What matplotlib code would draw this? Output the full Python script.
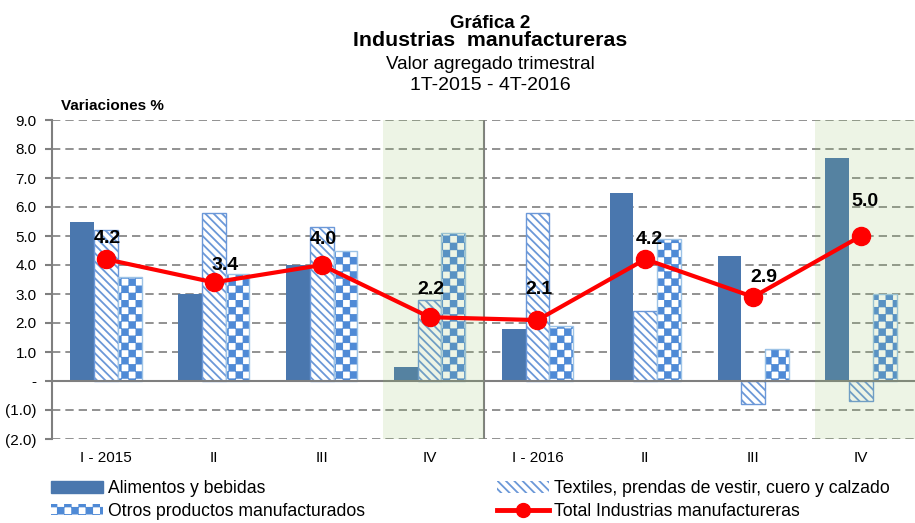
import matplotlib
matplotlib.use("Agg")
import matplotlib.pyplot as plt
import matplotlib.hatch as mhatch
from matplotlib.path import Path as MPath
from matplotlib.patches import Patch
from matplotlib.lines import Line2D
from matplotlib.ticker import FixedLocator, FuncFormatter
import numpy as np

QUARTERS = ["I - 2015", "II", "III", "IV", "I - 2016", "II", "III", "IV"]
ALIMENTOS = [5.5, 3.0, 4.0, 0.5, 1.8, 6.5, 4.3, 7.7]
TEXTILES = [5.2, 5.8, 5.3, 2.8, 5.8, 2.4, -0.8, -0.7]
OTROS = [3.6, 3.7, 4.5, 5.1, 1.9, 4.9, 1.1, 3.0]
TOTAL = [4.2, 3.4, 4.0, 2.2, 2.1, 4.2, 2.9, 5.0]
HIGHLIGHT = [3, 7]          # fourth quarters, shaded
YEAR_BREAK = 3.5

plt.rcParams["font.family"] = ["Liberation Sans", "DejaVu Sans"]
plt.rcParams["hatch.linewidth"] = 1.3


# matplotlib has no checkerboard hatch: use 'O' for one (drop the big circles)
class CheckerHatch(mhatch.HatchPatternBase):
    def __init__(self, hatch, density):
        self.n = 14 * hatch.count("O")
        self.num_vertices = (self.n * self.n // 2) * 5

    def set_vertices_and_codes(self, vertices, codes):
        s = 1.0 / self.n
        d = 0.007  # shrink for the stroke that agg adds round the squares
        k = 0
        for i in range(self.n):
            for j in range(self.n):
                if (i + j) % 2:
                    continue
                x0, y0 = i * s + d, j * s + d
                x1, y1 = (i + 1) * s - d, (j + 1) * s - d
                vertices[k:k + 5] = [[x0, y0], [x1, y0], [x1, y1], [x0, y1], [x0, y0]]
                codes[k:k + 5] = [MPath.MOVETO, MPath.LINETO, MPath.LINETO,
                                  MPath.LINETO, MPath.CLOSEPOLY]
                k += 5


mhatch._hatch_types = [h for h in mhatch._hatch_types if h is not mhatch.LargeCircles]
mhatch._hatch_types.append(CheckerHatch)

C_ALIM = "#4a77ae"
C_TEXT = "#6b98d8"
C_OTROS = "#4f8ad6"
C_OTROS_EDGE = "#9dc3e6"
C_RED = "#ff0000"
C_GRID = "#7f7f7f"
HATCH_TEXT = "\\\\\\\\"

fig = plt.figure(figsize=(9.15, 5.23), dpi=100)
ax = fig.add_axes([52 / 915, 1 - 439 / 523, 1 - 52 / 915, 319 / 523])

x = np.arange(len(QUARTERS))
w = 0.22
ax.bar(x - w, ALIMENTOS, w, color=C_ALIM, zorder=2)
ax.bar(x, TEXTILES, w, color="white", edgecolor=C_TEXT, hatch=HATCH_TEXT,
       linewidth=1.0, zorder=2)
ax.bar(x + w, OTROS, w, color="white", edgecolor=C_OTROS, hatch="O",
       linewidth=0, zorder=2)
ax.bar(x + w, OTROS, w, fill=False, edgecolor=C_OTROS_EDGE, linewidth=1.0, zorder=2.1)

for i in HIGHLIGHT:
    ax.axvspan(i - 0.43, i + 0.5, color="#8fc060", alpha=0.16, lw=0, zorder=2.5)

for yv in range(-2, 10):
    if yv == 0:
        continue
    ax.axhline(yv, color=C_GRID, lw=1.2, ls=(0, (5, 3)), zorder=0.5)
ax.axhline(0, color=C_GRID, lw=1.5, zorder=2.4)
ax.axvline(YEAR_BREAK, color=C_GRID, lw=1.5, zorder=2.4)

ax.plot(x, TOTAL, color=C_RED, lw=3, marker="o", ms=13, zorder=3)
offsets = [(1, 9), (8, 6), (1, 12), (1, 14), (1, 16), (3, 8), (8, 8), (3, 19)]
for xi, v, off in zip(x, TOTAL, offsets):
    ax.annotate(f"{v:.1f}", (xi, v), xytext=off, textcoords="offset points",
                ha="center", va="bottom", fontsize=14, fontweight="bold",
                zorder=4)

ax.set_xlim(-0.5, 7.5)
ax.set_ylim(-2, 9)
ax.yaxis.set_major_locator(FixedLocator(range(-2, 10)))
ax.yaxis.set_major_formatter(FuncFormatter(
    lambda v, p: "-" if v == 0 else (f"({abs(v):.1f})" if v < 0 else f"{v:.1f}")))
ax.set_xticks(x)
ax.set_xticklabels(QUARTERS)
ax.tick_params(axis="x", length=0, pad=9, labelsize=11)
ax.tick_params(axis="y", direction="out", length=5, width=1.5, color=C_GRID,
               pad=6, labelsize=11)
for side in ["top", "right", "bottom"]:
    ax.spines[side].set_visible(False)
ax.spines["left"].set_color(C_GRID)
ax.spines["left"].set_linewidth(1.5)

fig.text(0.5355, 1 - 28 / 523, "Gráfica 2", ha="center", va="baseline",
         fontsize=13.5, fontweight="bold")
fig.text(0.5355, 1 - 46 / 523, "Industrias  manufactureras", ha="center",
         va="baseline", fontsize=15.3, fontweight="bold")
fig.text(0.5355, 1 - 69 / 523, "Valor agregado trimestral", ha="center",
         va="baseline", fontsize=13.5)
fig.text(0.5355, 1 - 90 / 523, "1T-2015 - 4T-2016", ha="center",
         va="baseline", fontsize=14)
fig.text(61 / 915, 1 - 110.5 / 523, "Variaciones %", ha="left", va="baseline",
         fontsize=11, fontweight="bold")

handles = [
    Patch(facecolor=C_ALIM, edgecolor=C_ALIM),
    Patch(facecolor="white", edgecolor=C_OTROS, hatch="O", linewidth=0),
    Patch(facecolor="white", edgecolor=C_TEXT, hatch=HATCH_TEXT, linewidth=0),
    Line2D([], [], color=C_RED, lw=3.5, marker="o", ms=10),
]
labels = ["Alimentos y bebidas", "Otros productos manufacturados",
          "Textiles, prendas de vestir, cuero y calzado",
          "Total Industrias manufactureras"]
fig.legend(handles, labels, ncol=2, loc="upper left",
           bbox_to_anchor=(51 / 915, 1 - 480 / 523), frameon=False,
           borderpad=0, borderaxespad=0, handlelength=2.95, handleheight=0.62,
           handletextpad=0.28, labelspacing=0.32, columnspacing=7.5,
           prop={"size": 12.7})

fig.savefig("out.png", dpi=100)
